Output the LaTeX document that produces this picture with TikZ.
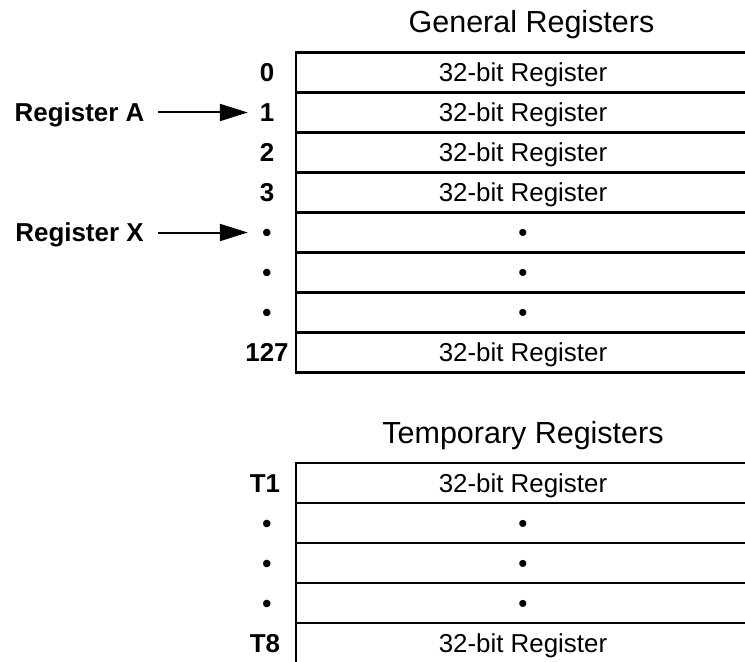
\documentclass[tikz,border=0pt]{standalone}
\usepackage{fontspec}
\setmainfont{Liberation Sans}
\usepackage{tikz}
\usetikzlibrary{arrows.meta}
\tikzstyle{arrow} = [line width=2bp,-{Triangle[length=28bp,width=17bp]},shorten <=11bp,shorten >=4bp]
\tikzstyle{cell} = [draw,line width=2.6bp,minimum width=454bp,minimum height=40bp,inner sep=0pt,text height=18.6bp,text depth=0pt,font=\fontsize{26}{30}\selectfont]
\tikzstyle{idx} = [minimum width=30bp,inner sep=3bp,text height=18.6bp,text depth=0pt,font=\fontsize{26}{30}\selectfont\bfseries]
\tikzstyle{title} = [anchor=base,font=\fontsize{30.6}{36}\selectfont]

\begin{document}
\begin{tikzpicture}[x=1bp, y=-1bp]
    % 画布大小
    \useasboundingbox (0,0) rectangle (745,662);
    \clip (0,0) rectangle (745,662);

    % 通用寄存器
    \node[title] (gtitle) at (531.5,33) {General Registers};
    \node[cell] (g0) at (523,72.5)  {32-bit Register};
    \node[cell] (g1) at (523,112.5) {32-bit Register};
    \node[cell] (g2) at (523,152.5) {32-bit Register};
    \node[cell] (g3) at (523,192.5) {32-bit Register};
    \node[cell] (g4) at (523,232.5) {\textbullet};
    \node[cell] (g5) at (523,272.5) {\textbullet};
    \node[cell] (g6) at (523,312.5) {\textbullet};
    \node[cell] (g7) at (523,352.5) {32-bit Register};

    % 编号
    \node[idx] (n0) at (267,72.5)  {0};
    \node[idx] (n1) at (267,112.5) {1};
    \node[idx] (n2) at (267,152.5) {2};
    \node[idx] (n3) at (267,192.5) {3};
    \node[idx] (n4) at (267,232.5) {\textbullet};
    \node[idx] (n5) at (267,272.5) {\textbullet};
    \node[idx] (n6) at (267,312.5) {\textbullet};
    \node[idx] (n7) at (267,352.5) {127};

    % 指向寄存器的箭头
    \node[idx] (regA) at (79.5,112.5) {Register A};
    \node[idx] (regX) at (79.5,232.5) {Register X};
    \draw[arrow] (regA) -- (n1);
    \draw[arrow] (regX) -- (n4);

    % 临时寄存器
    \node[title] (ttitle) at (523,443) {Temporary Registers};
    \node[cell] (t1) at (523,483) {32-bit Register};
    \node[cell] (t2) at (523,523) {\textbullet};
    \node[cell] (t3) at (523,563) {\textbullet};
    \node[cell] (t4) at (523,603) {\textbullet};
    \node[cell] (t5) at (523,643) {32-bit Register};

    \node[idx] (m1) at (265,483) {T1};
    \node[idx] (m2) at (267,523) {\textbullet};
    \node[idx] (m3) at (267,563) {\textbullet};
    \node[idx] (m4) at (267,603) {\textbullet};
    \node[idx] (m5) at (265,643) {T8};
\end{tikzpicture}
\end{document}
